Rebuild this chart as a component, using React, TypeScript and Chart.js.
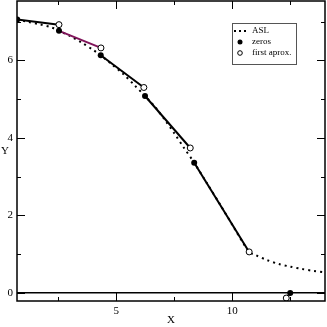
import React, { useEffect, useRef } from "react";
import { Chart, registerables } from "chart.js";
Chart.register(...registerables);

// ASL curve (dotted)
const aslX = [0.73, 1.2, 1.7, 2.2, 2.53, 3.0, 3.5, 4.0, 4.33, 4.8, 5.3, 5.8, 6.24, 6.7, 7.1, 7.5, 7.9, 8.36, 8.9, 9.5, 10.1, 10.73, 11.0, 11.5, 12.0, 12.5, 13.0, 13.5, 14.0];
const aslY = [7.05, 6.99, 6.93, 6.85, 6.76, 6.63, 6.46, 6.27, 6.13, 5.9, 5.65, 5.35, 5.08, 4.78, 4.46, 4.12, 3.76, 3.36, 2.84, 2.26, 1.66, 1.06, 0.98, 0.85, 0.75, 0.68, 0.62, 0.57, 0.53];

// zeros (filled circles)
const zerosX = [0.73, 2.53, 4.33, 6.24, 8.36, 12.5];
const zerosY = [7.05, 6.76, 6.13, 5.08, 3.36, 0.0];

// first approximations (open circles)
const aproxX = [2.53, 4.34, 6.19, 8.19, 10.73, 12.33];
const aproxY = [6.92, 6.32, 5.3, 3.74, 1.06, -0.13];

// segment colours: zero[i] -> aprox[i]
const segmentColors = ["#000000", "#80145a", "#000000", "#000000", "#000000", "#000000"];

const xMajorTicks = [5, 10];
const xMinorTicks = [2.5, 7.5, 12.5];
const yMajorTicks = [0, 2, 4, 6];
const yMinorTicks = [1, 3, 5, 7];
const xRange = [0.72, 14.0];
const yRange = [-0.206, 7.53];
const legendLabels = ["ASL", "zeros", "first aprox."];
const xTitle = "X";
const yTitle = "Y";

const FONT = '"Liberation Serif", "Times New Roman", serif';

const framePlugin = {
  id: "frame",
  afterDraw(chart: any) {
    const { ctx, chartArea, scales } = chart;
    const { left, right, top, bottom } = chartArea;
    const xs = scales.x;
    const ys = scales.y;
    ctx.save();
    ctx.strokeStyle = "#000";
    ctx.lineWidth = 1.5;
    ctx.strokeRect(left, top, right - left, bottom - top);
    ctx.lineWidth = 1;
    const xt = (vals: number[], len: number) => {
      vals.forEach((v) => {
        const p = Math.round(xs.getPixelForValue(v)) + 0.5;
        ctx.beginPath();
        ctx.moveTo(p, bottom);
        ctx.lineTo(p, bottom - len);
        ctx.moveTo(p, top);
        ctx.lineTo(p, top + len);
        ctx.stroke();
      });
    };
    const yt = (vals: number[], len: number) => {
      vals.forEach((v) => {
        const p = Math.round(ys.getPixelForValue(v)) + 0.5;
        ctx.beginPath();
        ctx.moveTo(left, p);
        ctx.lineTo(left + len, p);
        ctx.moveTo(right, p);
        ctx.lineTo(right - len, p);
        ctx.stroke();
      });
    };
    xt(xMajorTicks, 8);
    xt(xMinorTicks, 4);
    yt(yMajorTicks, 8);
    yt(yMinorTicks, 4);

    // Y title (upright)
    ctx.fillStyle = "#000";
    ctx.font = "11px " + FONT;
    ctx.textAlign = "center";
    ctx.textBaseline = "middle";
    ctx.fillText(yTitle, 5, (top + bottom) / 2);

    // legend
    const bx = 232, by = 23, bw = 64, bh = 41;
    ctx.fillStyle = "#fff";
    ctx.fillRect(bx, by, bw, bh);
    ctx.strokeStyle = "#555";
    ctx.lineWidth = 1;
    ctx.strokeRect(bx + 0.5, by + 0.5, bw, bh);
    ctx.font = "9px " + FONT;
    ctx.textAlign = "left";
    ctx.fillStyle = "#000";
    const rows = [31, 42, 53];
    [235, 240, 245].forEach((x) => ctx.fillRect(x - 1, rows[0] - 1, 2, 2));
    ctx.beginPath();
    ctx.arc(240, rows[1], 2.5, 0, Math.PI * 2);
    ctx.fill();
    ctx.beginPath();
    ctx.arc(240, rows[2], 2.3, 0, Math.PI * 2);
    ctx.strokeStyle = "#000";
    ctx.stroke();
    legendLabels.forEach((t, i) => ctx.fillText(t, 252, rows[i]));
    ctx.restore();
  },
};

export default function App() {
  const ref = useRef<HTMLCanvasElement>(null);
  useEffect(() => {
    document.body.style.margin = "0";
    const segDatasets = zerosX.map((zx, i) => ({
      type: "line" as const,
      label: "seg" + i,
      data: [
        { x: zx, y: zerosY[i] },
        { x: aproxX[i], y: aproxY[i] },
      ],
      borderColor: segmentColors[i],
      borderWidth: 2,
      pointRadius: 0,
      fill: false,
      order: 3,
    }));
    const chart = new Chart(ref.current!, {
      type: "scatter",
      data: {
        datasets: [
          {
            type: "scatter",
            label: legendLabels[2],
            data: aproxX.map((x, i) => ({ x, y: aproxY[i] })),
            pointRadius: 3,
            pointBackgroundColor: "#fff",
            pointBorderColor: "#000",
            pointBorderWidth: 1,
            order: 1,
          },
          {
            type: "scatter",
            label: legendLabels[1],
            data: zerosX.map((x, i) => ({ x, y: zerosY[i] })),
            pointRadius: 3,
            pointBackgroundColor: "#000",
            pointBorderColor: "#000",
            pointBorderWidth: 0,
            order: 2,
          },
          ...segDatasets,
          {
            type: "line",
            label: legendLabels[0],
            data: aslX.map((x, i) => ({ x, y: aslY[i] })),
            borderColor: "#000",
            borderWidth: 2,
            borderDash: [2, 4],
            pointRadius: 0,
            tension: 0.3,
            fill: false,
            order: 4,
          },
        ] as any,
      },
      options: {
        animation: false,
        responsive: false,
        layout: { autoPadding: false, padding: { top: 1, right: 2, left: 0, bottom: 0 } },
        plugins: { legend: { display: false }, tooltip: { enabled: false } },
        scales: {
          x: {
            type: "linear",
            min: xRange[0],
            max: xRange[1],
            afterBuildTicks: (s: any) => {
              s.ticks = xMajorTicks.map((v) => ({ value: v }));
            },
            afterFit: (s: any) => {
              s.height = 26;
              s.paddingLeft = 0;
              s.paddingRight = 0;
              s.paddingTop = 0;
              s.paddingBottom = 0;
            },
            grid: { display: false, drawTicks: false },
            border: { display: false },
            ticks: { color: "#000", font: { family: FONT, size: 11 }, padding: 4, maxRotation: 0 },
            title: { display: true, text: xTitle, color: "#000", font: { family: FONT, size: 11 }, padding: { top: 0, bottom: 0 } },
          },
          y: {
            type: "linear",
            min: yRange[0],
            max: yRange[1],
            afterBuildTicks: (s: any) => {
              s.ticks = yMajorTicks.map((v) => ({ value: v }));
            },
            afterFit: (s: any) => {
              s.width = 17;
              s.paddingTop = 0;
              s.paddingBottom = 0;
              s.paddingLeft = 0;
              s.paddingRight = 0;
            },
            grid: {
              drawTicks: false,
              color: (c: any) => (c.tick && c.tick.value === 0 ? "#000" : "rgba(0,0,0,0)"),
              lineWidth: 1.5,
            },
            border: { display: false },
            ticks: { color: "#000", font: { family: FONT, size: 11 }, padding: 4 },
          },
        },
      },
      plugins: [framePlugin],
    } as any);
    return () => chart.destroy();
  }, []);
  return (
    <div style={{ width: 327, height: 327 }}>
      <canvas ref={ref} width={327} height={327} />
    </div>
  );
}
